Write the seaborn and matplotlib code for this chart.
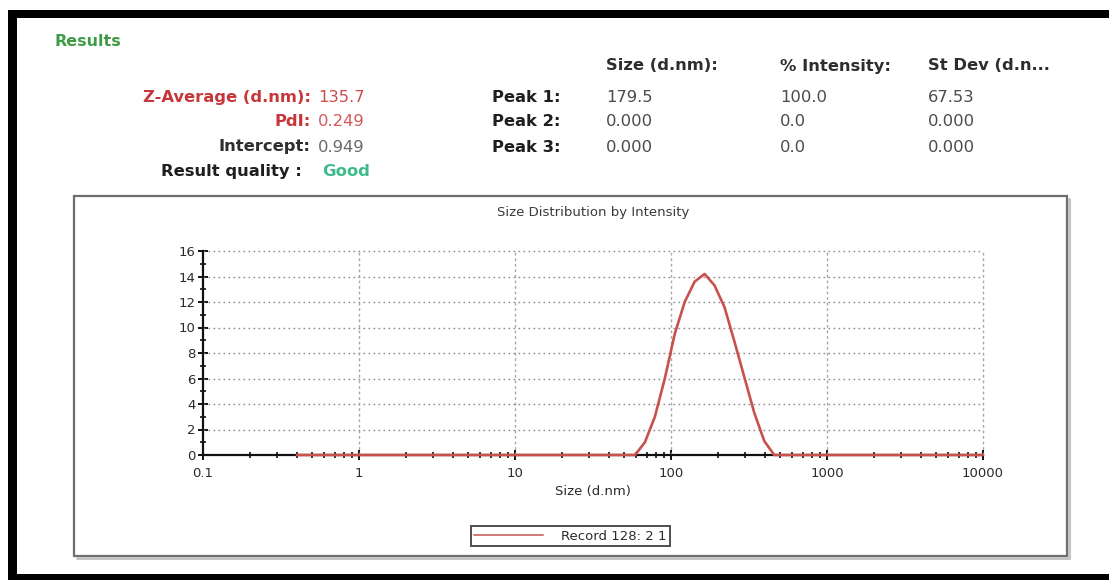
import matplotlib
matplotlib.use("Agg")
import matplotlib.pyplot as plt
import seaborn as sns
import pandas as pd
from matplotlib.patches import Rectangle
from matplotlib.lines import Line2D
from matplotlib.ticker import FixedLocator, FixedFormatter, NullFormatter

# ---- measurement data -------------------------------------------------------
size_nm = [0.4000, 0.4632, 0.5365, 0.6213, 0.7195, 0.8332, 0.9649, 1.117, 1.294,
           1.499, 1.736, 2.010, 2.328, 2.696, 3.122, 3.615, 4.187, 4.849, 5.615,
           6.503, 7.531, 8.721, 10.10, 11.70, 13.54, 15.69, 18.17, 21.04, 24.36,
           28.21, 32.67, 37.84, 43.82, 50.75, 58.77, 68.06, 78.82, 91.28, 105.7,
           122.4, 141.8, 164.2, 190.1, 220.2, 255.0, 295.3, 342.0, 396.1, 458.7,
           531.2, 615.1, 712.4, 825.0, 955.4, 1106, 1281, 1484, 1718, 1990, 2305,
           2669, 3091, 3580, 4145, 4801, 5560, 6439, 7456, 8635, 10000]
intensity_pct = [0, 0, 0, 0, 0, 0, 0, 0, 0, 0, 0, 0, 0, 0, 0, 0, 0, 0, 0, 0,
                 0, 0, 0, 0, 0, 0, 0, 0, 0, 0, 0, 0, 0, 0, 0, 1.0, 3.0, 6.0, 9.5,
                 12.0, 13.6, 14.2, 13.3, 11.6, 8.9, 6.1, 3.3, 1.1, 0, 0, 0, 0, 0,
                 0, 0, 0, 0, 0, 0, 0, 0, 0, 0, 0, 0, 0, 0, 0, 0, 0]
record_name = "Record 128: 2 1"

x_ticks = [0.1, 1, 10, 100, 1000, 10000]
x_tick_labels = ["0.1", "1", "10", "100", "1000", "10000"]
y_ticks = [0, 2, 4, 6, 8, 10, 12, 14, 16]

summary_labels = ["Z-Average (d.nm):", "PdI:", "Intercept:"]
summary_values = ["135.7", "0.249", "0.949"]
quality_text = "Good"

peak_names = ["Peak 1:", "Peak 2:", "Peak 3:"]
peak_columns = ["Size (d.nm):", "% Intensity:", "St Dev (d.n..."]
peak_size = ["179.5", "0.000", "0.000"]
peak_intensity = ["100.0", "0.0", "0.0"]
peak_stdev = ["67.53", "0.000", "0.000"]

# ---- figure -----------------------------------------------------------------
sns.set_theme(style="white")
plt.rcParams["font.family"] = ["DejaVu Sans"]

W, H = 1109, 580
fig = plt.figure(figsize=(W / 100, H / 100), dpi=100)
fig.patch.set_facecolor("white")


def fx(px):
    return px / W


def fy(py):
    return 1 - py / H


# outer report frame (heavy black on top, left and bottom)
for (x0, y0, x1, y1) in [(8, 10, W, 18), (8, 10, 17, 577), (8, 574, W, 580)]:
    fig.patches.append(Rectangle((fx(x0), fy(y1)), fx(x1) - fx(x0), fy(y0) - fy(y1),
                                 transform=fig.transFigure, facecolor="black",
                                 edgecolor="none", zorder=0))

# chart panel with a soft drop shadow
bx0, by0, bx1, by1 = 74, 196, 1067, 556
fig.lines.append(Line2D([fx(bx1 + 2), fx(bx1 + 2)], [fy(by0 + 3), fy(by1 + 2)],
                        transform=fig.transFigure, color="#c4c4c4", lw=2.2))
fig.lines.append(Line2D([fx(bx0 + 3), fx(bx1 + 2)], [fy(by1 + 2), fy(by1 + 2)],
                        transform=fig.transFigure, color="#c4c4c4", lw=2.2))
fig.patches.append(Rectangle((fx(bx0), fy(by1)), fx(bx1) - fx(bx0), fy(by0) - fy(by1),
                             transform=fig.transFigure, facecolor="none",
                             edgecolor="#6e6e6e", lw=1.6, zorder=1))

# ---- header block -----------------------------------------------------------
fs = 11.8
fig.text(fx(55), fy(42), "Results", color="#3f9b46", fontsize=11.5, fontweight="bold",
         ha="left", va="center")

label_colors = ["#c8363a", "#c8363a", "#2e2e2e"]
value_colors = ["#cc4a4a", "#cf5a5a", "#6a6a6a"]
row_y = [97, 121, 147]
for lab, val, lc, vc, yy in zip(summary_labels, summary_values, label_colors,
                                value_colors, row_y):
    fig.text(fx(311), fy(yy), lab, color=lc, fontsize=fs, fontweight="bold",
             ha="right", va="center")
    fig.text(fx(318), fy(yy), val, color=vc, fontsize=fs, ha="left", va="center")

fig.text(fx(302), fy(172), "Result quality :", color="#1e1e1e", fontsize=fs,
         fontweight="bold", ha="right", va="center")
fig.text(fx(322), fy(172), quality_text, color="#3dbb8c", fontsize=fs,
         fontweight="bold", ha="left", va="center")

col_x = [606, 780, 928]
for cx, name in zip(col_x, peak_columns):
    fig.text(fx(cx), fy(66), name, color="#2e2e2e", fontsize=fs, fontweight="bold",
             ha="left", va="center")
for name, s, i, d, yy in zip(peak_names, peak_size, peak_intensity, peak_stdev, row_y):
    fig.text(fx(492), fy(yy), name, color="#1e1e1e", fontsize=fs, fontweight="bold",
             ha="left", va="center")
    for cx, v in zip(col_x, [s, i, d]):
        fig.text(fx(cx), fy(yy), v, color="#4a4a4a", fontsize=fs, ha="left",
                 va="center")

# ---- size distribution plot -------------------------------------------------
ax_l, ax_r, ax_t, ax_b = 203, 983, 251, 455
ax = fig.add_axes([fx(ax_l), fy(ax_b), fx(ax_r) - fx(ax_l), fy(ax_t) - fy(ax_b)])
ax.set_facecolor("none")

df = pd.DataFrame({"Size (d.nm)": size_nm, "Intensity (Percent)": intensity_pct,
                   "record": record_name})
sns.lineplot(data=df, x="Size (d.nm)", y="Intensity (Percent)", hue="record",
             palette=["#c9514c"], linewidth=1.9, ax=ax, legend=False, zorder=5,
             clip_on=False, solid_joinstyle="round")

ax.set_xscale("log")
ax.set_xlim(0.1, 10000)
ax.set_ylim(0, 16)

# dotted reference grid
for yv in y_ticks[1:]:
    ax.axhline(yv, color="#8c8c8c", lw=1.0, ls=(0, (1.2, 2.4)), zorder=1, clip_on=False)
for xv in x_ticks[1:]:
    ax.axvline(xv, color="#a8a8a8", lw=1.0, ls=(0, (2, 2)), zorder=1, clip_on=False)

for side in ["top", "right"]:
    ax.spines[side].set_visible(False)
for side in ["left", "bottom"]:
    ax.spines[side].set_color("#111111")
    ax.spines[side].set_linewidth(1.6)
    ax.spines[side].set_zorder(4)

ax.xaxis.set_major_locator(FixedLocator(x_ticks))
ax.xaxis.set_major_formatter(FixedFormatter(x_tick_labels))
minor_x = [m * 10.0 ** e for e in range(-1, 4) for m in range(2, 10)]
ax.xaxis.set_minor_locator(FixedLocator(minor_x))
ax.xaxis.set_minor_formatter(NullFormatter())
ax.yaxis.set_major_locator(FixedLocator(y_ticks))
ax.yaxis.set_minor_locator(FixedLocator(list(range(1, 16, 2))))

ax.tick_params(axis="both", which="both", bottom=True, left=True, top=False,
               right=False)
ax.tick_params(axis="both", which="major", direction="inout", length=7, width=1.4,
               color="#111111", labelsize=9.5, labelcolor="#2a2a2a")
ax.tick_params(axis="both", which="minor", direction="inout", length=5, width=1.2,
               color="#111111")
ax.tick_params(axis="x", which="major", pad=5)
ax.tick_params(axis="y", which="major", pad=2)

ax.set_xlabel("Size (d.nm)", fontsize=9.5, color="#2a2a2a", labelpad=4)
ax.set_ylabel("")
ax.set_title("Size Distribution by Intensity", fontsize=9.5, color="#3a3a3a", pad=25)

handle = Line2D([], [], color="#d27a78", lw=1.4)
leg = ax.legend([handle], [record_name], loc="center",
                bbox_to_anchor=(fx(570.5), fy(536)), bbox_transform=fig.transFigure,
                fontsize=9.5, frameon=True, fancybox=False, handlelength=5.2,
                handletextpad=1.4, borderpad=0.25, borderaxespad=0)
leg.get_frame().set_edgecolor("#222222")
leg.get_frame().set_linewidth(1.4)
for t in leg.get_texts():
    t.set_color("#2a2a2a")

fig.savefig("out.png", dpi=100, facecolor="white")
